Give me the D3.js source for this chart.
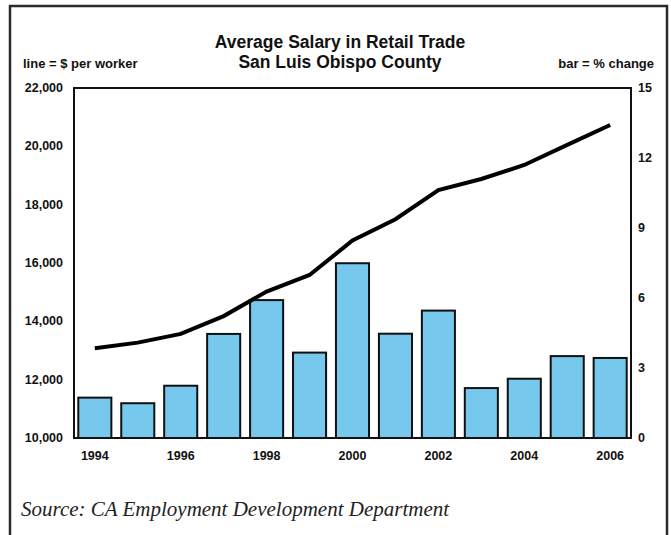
<!DOCTYPE html>
<html lang="en">
<head>
<meta charset="UTF-8">
<title>Average Salary in Retail Trade</title>
<script src="https://d3js.org/d3.v7.min.js"></script>
<style>
  body { margin: 0; background: #fff; }
  .tick-label { font: bold 12.5px "Liberation Sans", Arial, sans-serif; fill: #111; }
  .title { font: bold 17.5px "Liberation Sans", Arial, sans-serif; fill: #111; }
  .note { font: bold 13px "Liberation Sans", Arial, sans-serif; fill: #111; }
  .source { font: italic 21px "Liberation Serif", "Times New Roman", serif; fill: #222; }
</style>
</head>
<body>
<div id="chart"></div>
<script>
// data
const years = [1994, 1995, 1996, 1997, 1998, 1999, 2000, 2001, 2002, 2003, 2004, 2005, 2006];
const salary = [13080, 13270, 13570, 14180, 15020, 15590, 16770, 17500, 18500, 18880, 19360, 20050, 20730];
const pctChange = [1.73, 1.49, 2.24, 4.46, 5.91, 3.66, 7.49, 4.47, 5.46, 2.14, 2.54, 3.51, 3.43];
const leftTicks = [10000, 12000, 14000, 16000, 18000, 20000, 22000];
const rightTicks = [0, 3, 6, 9, 12, 15];
const yearLabels = [1994, 1996, 1998, 2000, 2002, 2004, 2006];

const width = 671, height = 535;
const plot = { left: 74, right: 631, top: 88, bottom: 438 };

const svg = d3.select("#chart").append("svg")
    .attr("width", width)
    .attr("height", height);

// outer frame (runs off the bottom)
svg.append("rect")
    .attr("x", 10).attr("y", 6)
    .attr("width", 657).attr("height", 560)
    .attr("fill", "none")
    .attr("stroke", "#2a2a2a")
    .attr("stroke-width", 2.5);

const x = d3.scaleBand()
    .domain(years)
    .range([plot.left, plot.right])
    .paddingInner(0.23)
    .paddingOuter(0.1);

const yLeft = d3.scaleLinear().domain([10000, 22000]).range([plot.bottom, plot.top]);
const yRight = d3.scaleLinear().domain([0, 15]).range([plot.bottom, plot.top]);

// bars
svg.append("g").selectAll("rect")
    .data(years)
    .join("rect")
    .attr("x", d => x(d))
    .attr("y", (d, i) => yRight(pctChange[i]))
    .attr("width", x.bandwidth())
    .attr("height", (d, i) => plot.bottom - yRight(pctChange[i]))
    .attr("fill", "#76c8ec")
    .attr("stroke", "#111")
    .attr("stroke-width", 2);

// plot frame
svg.append("rect")
    .attr("x", plot.left).attr("y", plot.top)
    .attr("width", plot.right - plot.left)
    .attr("height", plot.bottom - plot.top)
    .attr("fill", "none")
    .attr("stroke", "#111")
    .attr("stroke-width", 2);

// salary line
const line = d3.line()
    .x((d, i) => x(years[i]) + x.bandwidth() / 2)
    .y(d => yLeft(d));

svg.append("path")
    .datum(salary)
    .attr("d", line)
    .attr("fill", "none")
    .attr("stroke", "#000")
    .attr("stroke-width", 4);

// left axis labels
svg.append("g").selectAll("text")
    .data(leftTicks)
    .join("text")
    .attr("class", "tick-label")
    .attr("x", 63)
    .attr("y", d => yLeft(d) + 4)
    .attr("text-anchor", "end")
    .text(d => d3.format(",")(d));

// right axis labels
svg.append("g").selectAll("text")
    .data(rightTicks)
    .join("text")
    .attr("class", "tick-label")
    .attr("x", 638)
    .attr("y", d => yRight(d) + 4)
    .text(d => d);

// year labels
svg.append("g").selectAll("text")
    .data(yearLabels)
    .join("text")
    .attr("class", "tick-label")
    .attr("x", d => x(d) + x.bandwidth() / 2)
    .attr("y", 460)
    .attr("text-anchor", "middle")
    .text(d => d);

// titles
svg.append("text").attr("class", "title")
    .attr("x", 340).attr("y", 48).attr("text-anchor", "middle")
    .text("Average Salary in Retail Trade");
svg.append("text").attr("class", "title")
    .attr("x", 340).attr("y", 68).attr("text-anchor", "middle")
    .text("San Luis Obispo County");

svg.append("text").attr("class", "note")
    .attr("x", 23).attr("y", 68)
    .text("line = $ per worker");
svg.append("text").attr("class", "note")
    .attr("x", 654).attr("y", 68).attr("text-anchor", "end")
    .text("bar = % change");

svg.append("text").attr("class", "source")
    .attr("x", 21).attr("y", 516)
    .text("Source: CA Employment Development Department");
</script>
</body>
</html>
